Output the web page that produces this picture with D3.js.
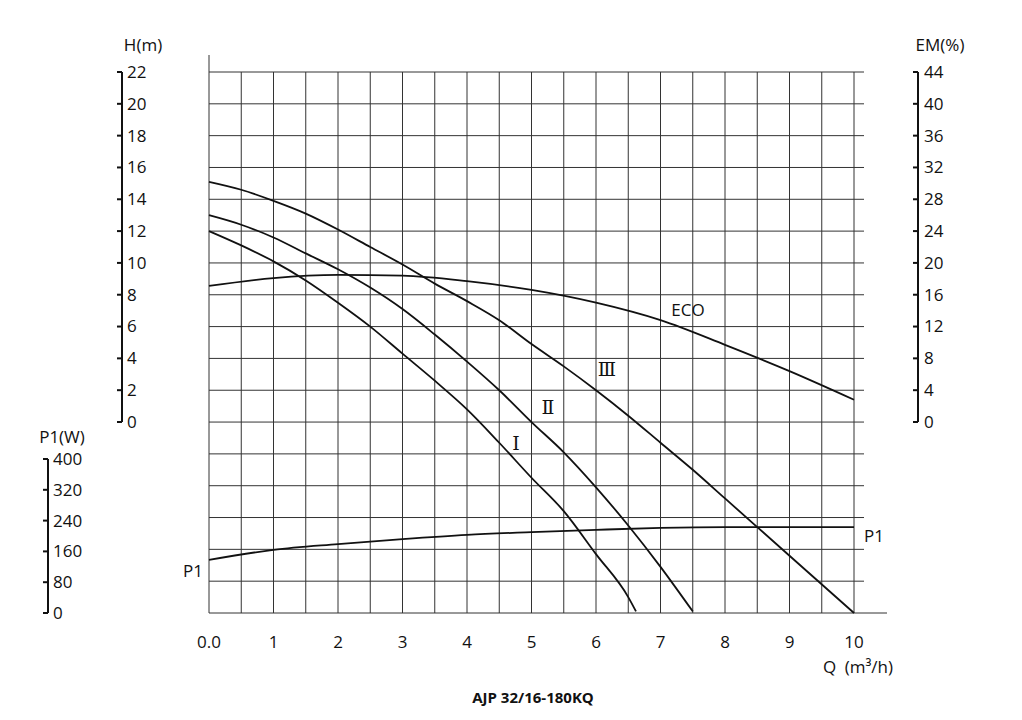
<!DOCTYPE html>
<meta charset='utf-8'>
<html>
<head>
<script src="https://d3js.org/d3.v7.min.js"></script>
<style>
  body { margin: 0; background: #fff; }
  text { font-family: "Open Sans", sans-serif; fill: #111; }
</style>
</head>
<body>
<div id="chart"></div>
<script>
// Q values (m3/h)
var q = [0, 1, 2, 3, 4, 5, 6, 7, 8, 9, 10]
// head curves [Q, H(m)]; below 0 the curves run on into the P1 area
var headIII = [[0,15.1],[0.5,14.6],[1,13.9],[1.5,13.1],[2,12.1],[2.5,11.0],[3,9.9],[3.5,8.7],[4,7.6],[4.5,6.4],[5,4.9],[5.5,3.5],[6,2.0],[6.5,0.4],[7,-1.3],[7.5,-3.0],[8,-4.8],[8.5,-6.6],[9,-8.4],[10,-12]]
var headII = [[0,13.0],[0.5,12.4],[1,11.6],[1.5,10.6],[2,9.6],[2.5,8.45],[3,7.1],[3.5,5.5],[4,3.8],[4.5,2.0],[5,0],[5.5,-1.9],[6,-4.1],[6.5,-6.5],[7,-9.1],[7.5,-11.9]]
var headI = [[0,12.0],[0.5,11.1],[1,10.1],[1.5,8.9],[2,7.5],[2.5,6.0],[3,4.3],[3.5,2.6],[4,0.8],[4.5,-1.3],[5,-3.5],[5.5,-5.6],[6,-8.3],[6.5,-11],[6.62,-11.9]]
var ecoEM = [17.1, 18.1, 18.5, 18.4, 17.7, 16.6, 15.0, 12.8, 9.7, 6.4, 2.8]
var p1W = [138, 164, 179, 192, 203, 210, 216, 221, 223, 223, 223]
var hTicks = [0,2,4,6,8,10,12,14,16,18,20,22]
var emTicks = [0,4,8,12,16,20,24,28,32,36,40,44]
var pTicks = [0,80,160,240,320,400]
var xTicks = [0,1,2,3,4,5,6,7,8,9,10]

var W = 1022, H = 720
var svg = d3.select('#chart').append('svg').attr('width', W).attr('height', H)

var x = d3.scaleLinear().domain([0, 10]).range([209, 854])
var yH = d3.scaleLinear().domain([-12, 22]).range([613, 72])
var yEM = d3.scaleLinear().domain([0, 44]).range([422, 72])
var yP = d3.scaleLinear().domain([0, 400]).range([613, 459])

var grid = svg.append('g').attr('stroke', '#333').attr('stroke-width', 1)
// horizontal grid every 2 m
d3.range(-12, 23, 2).forEach(function (v) {
  grid.append('line').attr('x1', 209).attr('x2', v === -12 ? 887 : 864)
    .attr('y1', yH(v)).attr('y2', yH(v))
})
// vertical grid every 0.5 m3/h
d3.range(0, 10.01, 0.5).forEach(function (v) {
  grid.append('line').attr('x1', x(v)).attr('x2', x(v))
    .attr('y1', v === 0 ? 55 : 72).attr('y2', 613)
})

var line = d3.line().curve(d3.curveMonotoneX)
function curve(pts) {
  svg.append('path').attr('d', line(pts)).attr('fill', 'none')
    .attr('stroke', '#111').attr('stroke-width', 1.8)
}
curve(headIII.map(function (d) { return [x(d[0]), yH(d[1])] }))
curve(headII.map(function (d) { return [x(d[0]), yH(d[1])] }))
curve(headI.map(function (d) { return [x(d[0]), yH(d[1])] }))
curve(q.map(function (d, i) { return [x(d), yEM(ecoEM[i])] }))
curve(q.map(function (d, i) { return [x(d), yP(p1W[i])] }))

// side axes
function sideAxis(scale, ticks, ax, lx, title, tx, ty) {
  var g = svg.append('g')
  var r = scale.range()
  g.append('line').attr('x1', ax).attr('x2', ax).attr('y1', r[1]).attr('y2', r[0])
    .attr('stroke', '#111').attr('stroke-width', 2)
  ticks.forEach(function (t) {
    g.append('line').attr('x1', ax - 5).attr('x2', ax).attr('y1', scale(t)).attr('y2', scale(t))
      .attr('stroke', '#111').attr('stroke-width', 2)
    g.append('text').attr('x', lx).attr('y', scale(t)).attr('dy', '0.35em')
      .style('font-size', '17px').text(t)
  })
  g.append('text').attr('x', tx).attr('y', ty).attr('text-anchor', 'middle')
    .style('font-size', '17px').text(title)
}
sideAxis(yH.copy().domain([0, 22]).range([422, 72]), hTicks, 122, 127, 'H(m)', 143, 51)
sideAxis(yEM, emTicks, 918, 924, 'EM(%)', 940, 51)
sideAxis(yP, pTicks, 48, 53, 'P1(W)', 62, 443)

// x labels
xTicks.forEach(function (t) {
  svg.append('text').attr('x', x(t)).attr('y', 648).attr('text-anchor', 'middle')
    .style('font-size', '17px').text(t === 0 ? '0.0' : t)
})
svg.append('text').attr('x', 858).attr('y', 673).attr('text-anchor', 'middle')
  .style('font-size', '17px').style('word-spacing', '4px').text('Q  (m³/h)')

// curve labels
var labels = [['ECO', 688, 316], ['Ⅲ', 607, 376], ['Ⅱ', 548, 414], ['Ⅰ', 516, 450], ['P1', 193, 577], ['P1', 874, 542]]
labels.forEach(function (d) {
  svg.append('text').attr('x', d[1]).attr('y', d[2]).attr('text-anchor', 'middle')
    .style('font-size', d[0].length === 1 ? '19px' : '17px')
    .style('font-family', d[0].length === 1 ? '"DejaVu Serif", serif' : null)
    .text(d[0])
})

svg.append('text').attr('x', 533).attr('y', 703).attr('text-anchor', 'middle')
  .style('font-size', '15px').style('font-weight', 'bold').text('AJP 32/16-180KQ')
</script>
</body>
</html>
